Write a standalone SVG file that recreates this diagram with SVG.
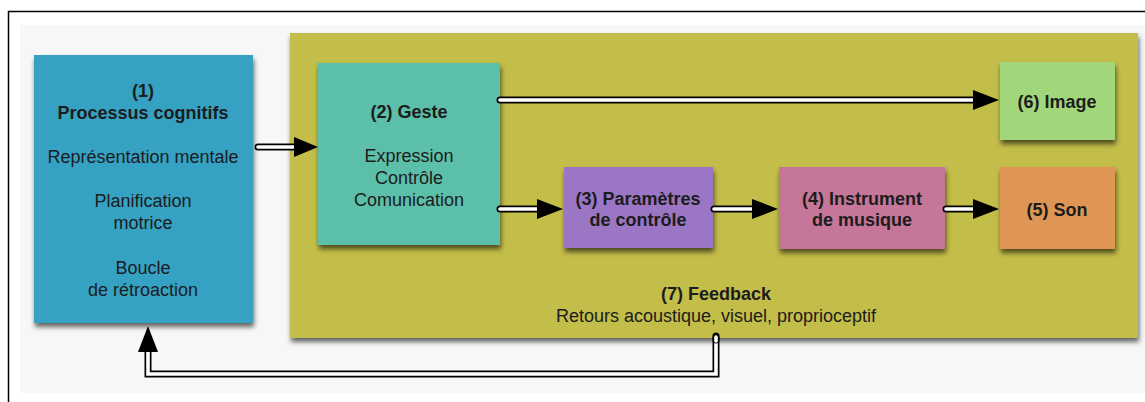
<svg xmlns="http://www.w3.org/2000/svg" width="1145" height="402" viewBox="0 0 1145 402">
<defs>
<filter id="sh" x="-10%" y="-10%" width="125%" height="130%">
<feDropShadow dx="1" dy="4" stdDeviation="2.5" flood-color="#000" flood-opacity="0.6"/>
</filter>
<style>
text{font-family:"Liberation Sans",Arial,Helvetica,sans-serif;font-size:18px;fill:#1c1c1c;text-anchor:middle}
.b{font-weight:bold}
.out{fill:none;stroke:#000;stroke-width:7;stroke-linecap:round;stroke-linejoin:miter}
.in{fill:none;stroke:#fff;stroke-width:3.6;stroke-linecap:round;stroke-linejoin:miter}
.head{fill:#000}
</style>
</defs>
<rect x="0" y="0" width="1145" height="402" fill="#fff"/>
<rect x="8.5" y="11.5" width="1150" height="400" fill="#fff" stroke="#000" stroke-width="1.5"/>
<rect x="20" y="25" width="1125" height="368" fill="#f7f7f7"/>

<g id="n7">
<rect x="290" y="33" width="848" height="305" fill="#c3bd48" filter="url(#sh)"/>
<text x="716" y="300" class="b">(7) Feedback</text>
<text x="716" y="322">Retours acoustique, visuel, proprioceptif</text>
</g>

<g id="n1">
<rect x="34" y="55" width="219" height="268" fill="#36a2c4" filter="url(#sh)"/>
<text x="143" y="97" class="b">(1)</text>
<text x="143" y="119" class="b">Processus cognitifs</text>
<text x="143" y="163">Représentation mentale</text>
<text x="143" y="207">Planification</text>
<text x="143" y="229">motrice</text>
<text x="143" y="274">Boucle</text>
<text x="143" y="296">de rétroaction</text>
</g>

<g id="n2">
<rect x="318" y="63" width="182" height="182" fill="#5bbfaa" filter="url(#sh)"/>
<text x="409" y="118" class="b">(2) Geste</text>
<text x="409" y="162">Expression</text>
<text x="409" y="184">Contrôle</text>
<text x="409" y="206">Comunication</text>
</g>

<g id="n3">
<rect x="564" y="167" width="149" height="81" fill="#9b76c5" filter="url(#sh)"/>
<text x="638" y="205" class="b">(3) Paramètres</text>
<text x="638" y="226" class="b">de contrôle</text>
</g>

<g id="n4">
<rect x="779" y="167" width="166" height="82" fill="#c67699" filter="url(#sh)"/>
<text x="862" y="205" class="b">(4) Instrument</text>
<text x="862" y="226" class="b">de musique</text>
</g>

<g id="n5">
<rect x="1000" y="167" width="115" height="82" fill="#df9655" filter="url(#sh)"/>
<text x="1057" y="216" class="b">(5) Son</text>
</g>

<g id="n6">
<rect x="1000" y="62" width="115" height="78" fill="#a1d77a" filter="url(#sh)"/>
<text x="1057" y="108" class="b">(6) Image</text>
</g>

<g id="connectors">
<g id="e12">
<path class="out" d="M258 147 H297"/><path class="in" d="M258 147 H297"/>
<polygon class="head" points="294,137 318,147 294,157"/>
</g>
<g id="e26">
<path class="out" d="M500 100 H975"/><path class="in" d="M500 100 H975"/>
<polygon class="head" points="973,90 999,100 973,110"/>
</g>
<g id="e23">
<path class="out" d="M500 209 H540"/><path class="in" d="M500 209 H540"/>
<polygon class="head" points="537,199 563,209 537,219"/>
</g>
<g id="e34">
<path class="out" d="M714 209 H755"/><path class="in" d="M714 209 H755"/>
<polygon class="head" points="752,199 778,209 752,219"/>
</g>
<g id="e45">
<path class="out" d="M946 209 H975"/><path class="in" d="M946 209 H975"/>
<polygon class="head" points="973,199 999,209 973,219"/>
</g>
<g id="e71">
<path class="out" d="M716 338 V374 H148 V350" stroke-linecap="butt"/>
<path class="in" d="M716 338 V374 H148 V350" stroke-linecap="butt"/>
<path d="M716 336 V340" stroke="#000" stroke-width="7" stroke-linecap="round"/>
<path d="M716 337 V341" stroke="#fff" stroke-width="3.6" stroke-linecap="round"/>
<polygon class="head" points="138,352 148,326 158,352"/>
</g>
</g>
</svg>
